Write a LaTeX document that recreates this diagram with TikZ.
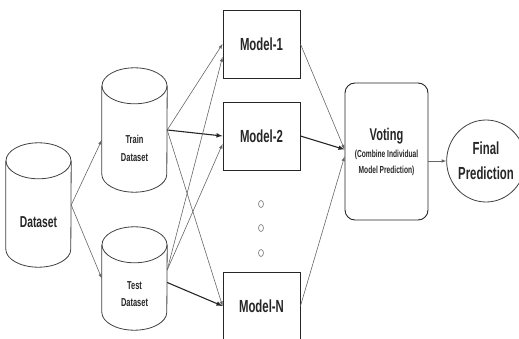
\documentclass[tikz,border=0pt]{standalone}
\usepackage{fontspec}
\newfontfamily\narrowsf{Liberation Sans}[FakeStretch=0.65]
\usetikzlibrary{shapes.geometric}
% outline of a database cylinder round an (invisible) box node
\newcommand\dbcyl[1]{%
	\draw[cyl] ([yshift=-18pt]#1.north) ellipse[x radius=32.5pt, y radius=18pt];
	\draw[cyl] ([yshift=-18pt]#1.north west) -- ([yshift=18pt]#1.south west)
		arc[start angle=180, end angle=360, x radius=32.5pt, y radius=18pt] -- ([yshift=-18pt]#1.north east);}

\begin{document}
\begin{tikzpicture}[x=1pt,y=-1pt,
	dbbox/.style={rectangle, minimum width=65pt, inner sep=0pt},
	cyl/.style={draw=black!75, line width=0.8pt},
	dbtext/.style={align=center, text=black!85, font=\narrowsf\bfseries\fontsize{11.5}{17.5}\selectfont},
	model/.style={draw=black!85, line width=0.9pt, minimum width=77pt, minimum height=68pt, text=black!85, font=\narrowsf\bfseries\fontsize{17.5}{20}\selectfont},
	dot/.style={ellipse, draw=black!55, line width=0.6pt, minimum width=5pt, minimum height=7pt, inner sep=0pt},
	link/.style={-latex, draw=black!60, line width=0.6pt},
	strong/.style={-latex, draw=black!85, line width=1.1pt}]
	\useasboundingbox (0,0) rectangle (519,339);
	\clip (0,0) rectangle (519,339);
	% datasets
	\node[dbbox, minimum height=124pt] (data) at (38.5,205) {};
	\dbcyl{data}
	\node[dbtext, font=\narrowsf\bfseries\fontsize{15.8}{18}\selectfont] (datatxt) at ([yshift=-17]data.center) {Dataset};
	\node[dbbox, minimum height=124pt] (train) at (134.5,130) {};
	\dbcyl{train}
	\node[dbtext] (traintxt) at ([yshift=-18.5]train.center) {Train\\Dataset};
	\node[dbbox, minimum height=103pt] (test) at (134.5,278.5) {};
	\dbcyl{test}
	\node[dbtext] (testtxt) at ([yshift=-15.5]test.center) {Test\\Dataset};
	% models
	\node[model] (m1) at (261.5,44) {Model-1};
	\node[model] (m2) at (261.5,136) {Model-2};
	\node[model] (mN) at (261.5,306) {Model-N};
	\foreach \y [count=\i] in {204,228,253}
		\node[dot] (dot\i) at (261,\y) {};
	% voting and result
	\node[draw=black!85, line width=0.9pt, rounded corners=10pt, minimum width=83pt, minimum height=137pt, align=center, text=black!85,
		font=\narrowsf\bfseries\fontsize{10.2}{16}\selectfont] (vote) at (386.5,151.5)
		{{\fontsize{17}{19}\selectfont Voting}\\[1pt](Combine Individual\\Model Prediction)};
	\node[ellipse, draw=black!75, line width=0.8pt, minimum width=66pt, minimum height=82pt, inner sep=0pt, align=center, text=black!85,
		font=\narrowsf\bfseries\fontsize{17.5}{25}\selectfont] (final) at (486,161) {Final\\Prediction};
	% connectors
	\draw[link] (data.east) -- ([yshift=-10]train.west);
	\draw[link] (data.east) -- (test.west);
	\draw[link] (train.east) -- (m1.west);
	\draw[strong] (train.east) -- (m2.west);
	\draw[link] (train.east) -- (mN.west);
	\draw[link] ([yshift=8.5]test.east) -- ([yshift=-13]m1.west);
	\draw[link] ([yshift=8.5]test.east) -- ([yshift=-8]m2.west);
	\draw[strong] ([yshift=-4]test.east) -- (mN.west);
	\draw[link] (m1.east) -- ([yshift=2]vote.west);
	\draw[strong] (m2.east) -- ([yshift=2]vote.west);
	\draw[link] (mN.east) -- ([yshift=-5]vote.west);
	\draw[link] ([yshift=-9.5]vote.east) -- (final.west);
\end{tikzpicture}
\end{document}
